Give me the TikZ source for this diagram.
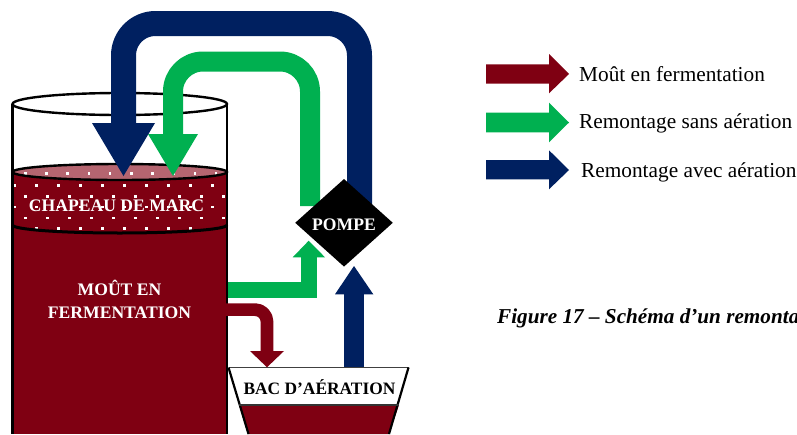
\documentclass[tikz,border=0pt]{standalone}
\usepackage{fontspec}
\usetikzlibrary{shapes.geometric}
\setmainfont{Liberation Serif}
\definecolor{wine}{HTML}{7F0012}
\definecolor{winelight}{HTML}{B56570}
\definecolor{vert}{HTML}{00B050}
\definecolor{marine}{HTML}{002060}
\tikzset{
  outline/.style={draw=black,line width=2.4pt},
  legendtext/.style={anchor=west,inner sep=0pt,font=\fontsize{21.3}{24}\selectfont,text=black},
  whitelabel/.style={inner sep=0pt,align=center,text=white,font=\bfseries\fontsize{17.6}{23}\selectfont},
  pipe/.style={line cap=butt,line join=round},
  dot/.style={fill=white,draw=none}
}
\begin{document}
\begin{tikzpicture}[x=1pt,y=-1pt]
\useasboundingbox (0,0) rectangle (797,434);
\clip (0,0) rectangle (797,434);
% tank
\fill[wine] (12.5,172) -- (12.5,225) arc[start angle=180,end angle=0,x radius=107.25,y radius=8] -- (227,172) -- cycle;
\fill[wine] (12.5,225) rectangle (227,434);
\fill[winelight] (119.75,172) ellipse[x radius=107.25,y radius=8];
% dots
\node[whitelabel] (chapeau) at (116.5,205.5) {CHAPEAU DE MARC};
\foreach \k in {0,...,9}{\fill[dot] ({25+21.2*\k-1},172.3) rectangle ++(2.6,2.6);}
\foreach \yy in {196,217.7}{\foreach \k in {0,...,9}{\fill[dot] ({25+22*\k-1},\yy-1) rectangle ++(2.6,2.6);}}
\foreach \yy in {185,206.7}{\foreach \k in {0,...,9}{\fill[dot] ({14.3+22*\k-1},\yy-1) rectangle ++(2.6,2.6);}}
\foreach \k in {1,...,8}{\fill[dot] ({14.3+22*\k-1},227.3) rectangle ++(2.6,2.6);}
% tank outlines
\draw[outline] (119.75,104) ellipse[x radius=107.25,y radius=11];
\draw[outline] (12.5,104) -- (12.5,434);
\draw[outline] (227,104) -- (227,434);
\draw[outline] (119.75,172) ellipse[x radius=107.25,y radius=8];
\draw[outline,line width=3pt] (12.5,225) arc[start angle=180,end angle=0,x radius=107.25,y radius=8];
\node[whitelabel] (mout) at (119.5,299.5) {MOÛT EN\\FERMENTATION};
% bac
\fill[wine] (239,405) -- (399,405) -- (389,434) -- (248,434) -- cycle;
\draw[black!75,line width=1.6pt] (228.5,367.5) -- (408.5,367.5);
\draw[black,line width=2.2pt] (228.5,367.5) -- (248.5,434);
\draw[black,line width=2.2pt] (408.5,367.5) -- (389,434);
\draw[black!80,line width=1.6pt] (239,405) -- (398.5,405);
\node[inner sep=0pt,text=black,font=\bfseries\fontsize{17.4}{20}\selectfont] (bac) at (319.5,387.5) {BAC D’AÉRATION};
% named pipe ends
\coordinate (navyS) at (359.5,205);
\coordinate (navyA) at (359.5,23.5);
\coordinate (navyB) at (123.5,23.5);
\coordinate (navyE) at (123.5,124);
\coordinate (greenS) at (310,206);
\coordinate (greenA) at (310,61.5);
\coordinate (greenB) at (173,61.5);
\coordinate (greenE) at (173,135);
\coordinate (greenT) at (228,290.3);
\coordinate (greenU) at (308.7,290.3);
\coordinate (greenV) at (308.7,256.5);
\coordinate (redS) at (226,309.6);
\coordinate (redA) at (267,309.6);
\coordinate (redE) at (267,352);
\coordinate (blueS) at (354,367);
\coordinate (blueE) at (354,293.5);
% navy
\draw[pipe,marine,line width=19.4pt] (blueS) -- (blueE);
\fill[marine] (335,294.3) -- (354,266) -- (373.3,294.3) -- cycle;
\draw[pipe,marine,line width=25pt,rounded corners=32pt] (navyS) -- (navyA) -- (navyB) -- (navyE);
\fill[marine] (155,123) -- (123.5,176) -- (92,123) -- cycle;
% green
\draw[pipe,vert,line width=20pt,rounded corners=30pt] (greenS) -- (greenA) -- (greenB) -- (greenE);
\fill[vert] (198,134) -- (173,176) -- (148,134) -- cycle;
\draw[vert,line width=16pt,line join=miter] (greenT) -- (greenU) -- (greenV);
\fill[vert] (292.7,257.3) -- (308.7,240.7) -- (325,257.3) -- cycle;
% red
\draw[pipe,wine,line width=12.7pt,rounded corners=12pt] (redS) -- (redA) -- (redE);
\fill[wine] (284,351) -- (267,367.3) -- (250,351) -- cycle;
% pump
\node[diamond,fill=black,inner sep=0pt,minimum width=97.7pt,minimum height=87.7pt,aspect=1.114] (pompe) at (344,222.8) {};
\node[whitelabel] (pompetext) at (344,225) {POMPE};
% legend
\fill[wine] (486,64.3) -- (549,64.3) -- (549,54) -- (569,74) -- (549,93.3) -- (549,83.7) -- (486,83.7) -- cycle;
\fill[vert] (486,112.7) -- (549,112.7) -- (549,102.7) -- (569,122.5) -- (549,142.3) -- (549,132.3) -- (486,132.3) -- cycle;
\fill[marine] (486,160) -- (549,160) -- (549,150.3) -- (569,170) -- (549,189.3) -- (549,179.3) -- (486,179.3) -- cycle;
\node[legendtext] (l1) at (579,74.5) {Moût en fermentation};
\node[legendtext] (l2) at (579,123.5) {Remontage sans aération};
\node[legendtext] (l3) at (581,172.5) {Remontage avec aération};
\node[anchor=west,inner sep=0pt,text=black,font=\bfseries\itshape\fontsize{21.2}{24}\selectfont] (cap) at (497,318) {Figure 17 – Schéma d’un remontage};
\end{tikzpicture}
\end{document}
